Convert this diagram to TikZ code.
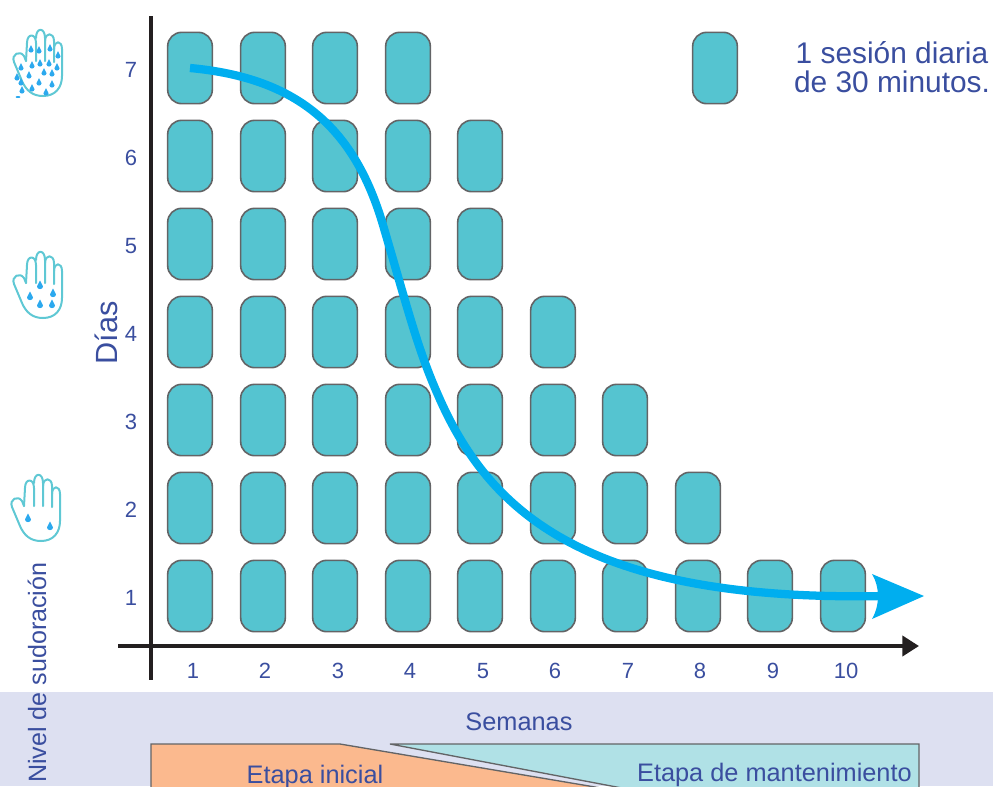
\documentclass[tikz,border=0pt]{standalone}
\usepackage{fontspec}
\setmainfont{Liberation Sans}
\usetikzlibrary{arrows.meta}
\definecolor{txt}{HTML}{3A4E9F}
\definecolor{boxfill}{HTML}{55C4D0}
\definecolor{boxline}{HTML}{636466}
\definecolor{axisc}{HTML}{231F20}
\definecolor{curvec}{HTML}{00AEEF}
\definecolor{band}{HTML}{DDE0F1}
\definecolor{orangec}{HTML}{FBB98E}
\definecolor{tealc}{HTML}{B0E1E6}
\definecolor{handc}{HTML}{5FC8D4}
\definecolor{dropc}{HTML}{2CA9EE}
\tikzset{
  session/.style={draw=boxline,line width=1.2pt,fill=boxfill,rounded corners=10.5pt,minimum width=33.5pt,minimum height=53.5pt,inner sep=0pt},
  tick/.style={text=txt,font=\fontsize{16.5pt}{18pt}\selectfont,inner sep=0pt},
  label/.style={text=txt,inner sep=0pt},
  axisline/.style={draw=axisc,line width=3pt},
  stage/.style={draw=boxline,line width=1pt},
  handline/.style={draw=handc,line width=1.5pt,line cap=round,line join=round},
}
\newcommand{\handdrop}[2]{\fill[dropc] (#1,#2-4.5) .. controls (#1+1,#2-1.5) and (#1+3,#2) .. (#1+3,#2+1.5) .. controls (#1+3,#2+5) and (#1-3,#2+5) .. (#1-3,#2+1.5) .. controls (#1-3,#2) and (#1-1,#2-1.5) .. (#1,#2-4.5) -- cycle;}
\newcommand{\handshape}{%
  \draw[handline] (26,283) -- (27,265) .. controls (27,255) and (36,255) .. (36,265) -- (36,283);
  \draw[handline] (36,260) .. controls (36,249) and (45,249) .. (45,260) -- (45,283);
  \draw[handline] (45,263) .. controls (45,254) and (54,254) .. (54,263) -- (54,284);
  \draw[handline] (54,271) .. controls (54,262) and (62,262) .. (62,271) -- (62,298) .. controls (62,310) and (55,318) .. (43,318) .. controls (32,318) and (26,312) .. (22,303) -- (14,284) .. controls (11,276) and (20,272) .. (24,278) -- (26,283);
}
\begin{document}
\begin{tikzpicture}[x=0.75pt,y=-0.75pt]
\useasboundingbox (0,0) rectangle (993,786);
\clip (0,0) rectangle (993,786);
% band
\fill[band] (0,692) rectangle (993,786);
\draw[stage,fill=orangec] (151,800) -- (151,744) -- (340,744) -- (672,800);
\draw[stage,fill=tealc] (390,744) -- (919,744) -- (919,800) -- (685,800) -- cycle;
\node[label,font=\fontsize{19pt}{20pt}\selectfont,anchor=base] (inicial) at (315,783) {Etapa inicial};
\node[label,font=\fontsize{19pt}{20pt}\selectfont,anchor=base east] (mant) at (912,781) {Etapa de mantenimiento};
\node[label,font=\fontsize{19pt}{20pt}\selectfont] (semanas) at (519,722) {Semanas};
% sessions
\foreach \col/\cx/\n in {1/190/7,2/263/7,3/335/7,4/408/7,5/480/6,6/553/4,7/625/3,8/698/2,9/770/1,10/843/1}
  \foreach \r in {1,...,\n}
    \node[session] (s-\col-\r) at (\cx,{68+88*(7-\r)}) {};
\node[session] (legendbox) at (715,68) {};
\node[label,font=\fontsize{22.4pt}{21.8pt}\selectfont,align=center] (legend) at (892,67) {1 sesión diaria\\de 30 minutos.};
% axes
\coordinate (ytop) at (151,16);
\coordinate (ybot) at (151,680);
\coordinate (xleft) at (118,646);
\coordinate (xright) at (919,646);
\draw[axisline] (ytop) -- (ybot);
\draw[axisline,-{Triangle[length=12.5pt,width=15pt]}] (xleft) -- (xright);
% ticks
\foreach \r in {1,...,7}
  \node[tick] (y-\r) at (131,{70+88*(7-\r)}) {\r};
\foreach \i/\x in {1/193,2/265,3/338,4/410,5/483,6/555,7/628,8/700,9/773,10/846}
  \node[tick] (x-\i) at (\x,671) {\i};
\node[label,font=\fontsize{23pt}{24pt}\selectfont,rotate=90] (dias) at (106,333) {Días};
\node[label,font=\fontsize{18.8pt}{20pt}\selectfont,rotate=90,anchor=base west] (nivel) at (46,783) {Nivel de sudoración};
% curve
\coordinate (cstart) at (190,68);
\coordinate (cend) at (885,596);
\draw[curvec,line width=6.2pt] (cstart) .. controls (300,78) and (355,130) .. (383,225) .. controls (408,310) and (418,350) .. (438,395) .. controls (490,515) and (590,602) .. (cend);
\fill[curvec] (872,574) -- (924,596) -- (872,619) .. controls (880,605) and (880,587) .. (872,574) -- cycle;
% hands
\handshape
\begin{scope}[shift={(0,-222)}]\handshape\end{scope}
\begin{scope}[shift={(-2,223)}]\handshape\end{scope}
\foreach \dx/\dy in {40/285,30/296,53/293,40/304,52/304} {\handdrop{\dx}{\dy}}
\foreach \dx/\dy in {28/518,50/526} {\handdrop{\dx}{\dy}}
\foreach \dx/\dy in {31/49,39/50,50/48,58/55,21/67,32/65,40/63,49/63,57/67,17/77,29/75,44/72,52/73,21/82,39/82,52/84,32/88,22/90,46/92} {
\begin{scope}[shift={(\dx,\dy)},scale=.85]\handdrop{0}{0}\end{scope}}
\fill[dropc] (18,97) ellipse (2.5 and 1);
\end{tikzpicture}
\end{document}
